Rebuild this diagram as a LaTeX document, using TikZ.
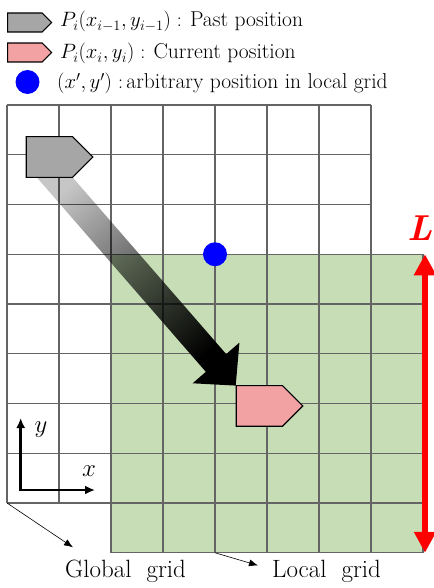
\documentclass[tikz,border=0pt]{standalone}
\usetikzlibrary{positioning,arrows.meta,calc,backgrounds,shapes.symbols}
\definecolor{pastgray}{HTML}{A6A6A6}
\definecolor{curpink}{HTML}{F2A2A2}
\definecolor{localgreen}{HTML}{C6DDB5}
\definecolor{gridgray}{HTML}{646464}
\newcommand{\legfont}{\fontsize{21.5}{24}\selectfont}

\begin{document}
\begin{tikzpicture}[
  x=1pt, y=-1pt,
  font=\fontsize{20}{24}\selectfont,
  gridline/.style={draw=gridgray, line width=1.3pt},
  penta/.style={signal, signal to=east, signal pointer angle=90, draw=black, line width=1.1pt, inner sep=0pt, anchor=west},
  past/.style={penta, fill=pastgray},
  cur/.style={penta, fill=curpink},
  dot/.style={circle, fill=blue, inner sep=0pt, minimum size=24pt},
  legtext/.style={anchor=base west, inner sep=0pt},
  gridname/.style={anchor=base west, inner sep=0pt, font=\fontsize{25}{30}\selectfont},
  axlabel/.style={inner sep=0pt, font=\fontsize{31}{31}\selectfont},
  pointer/.style={-{Latex[length=9pt,width=7pt]}, line width=0.6pt},
  axis/.style={{Latex[length=10pt,width=9pt]}-{Latex[length=10pt,width=9pt]}, line width=2.6pt, line join=miter},
  lenarrow/.style={{Triangle[length=21pt,width=21pt]}-{Triangle[length=21pt,width=21pt]}, line width=6pt, red}]
\useasboundingbox (0,0) rectangle (433,588);
\begin{pgfonlayer}{background}
\fill[localgreen] (111,254.25) rectangle (423,552.75);
\foreach \i in {0,...,7} \draw[gridline] (7+52*\i,105) -- (7+52*\i,503);
\foreach \j in {0,...,8} \draw[gridline] (7,105+49.75*\j) -- (371,105+49.75*\j);
\foreach \i in {0,...,6} \draw[gridline] (111+52*\i,254.25) -- (111+52*\i,552.75);
\foreach \j in {0,...,6} \draw[gridline] (111,254.25+49.75*\j) -- (423,254.25+49.75*\j);
\end{pgfonlayer}
\node[past, minimum width=44pt, minimum height=19pt] (legpast) at (7,22.5) {};
\node[legtext] (pasttext) at (60,27) {$P_i(x_{i-1},y_{i-1})$ : {\legfont Past position}};
\node[cur, minimum width=44pt, minimum height=19pt] (legcur) at (7,52.5) {};
\node[legtext] (curtext) at (60,59) {$P_i(x_i,y_i)$ : {\legfont Current position}};
\node[dot] (legdot) at (27.5,82) {};
\node[legtext] (dottext) at (57,89) {$(x',y')$ :\,{\legfont arbitrary position in local grid}};
\node[past, minimum width=66.6pt, minimum height=40.6pt] (prev) at (25.7,157) {};
\node[cur, minimum width=66.6pt, minimum height=40.6pt] (now) at (235.7,405.9) {};
\node[dot] (anypos) at (215,254.25) {};
\coordinate (tail) at ($(prev.west)+(19.1,9)$);
\coordinate (tip) at ($(now.west)+(0,-20.3)$);
\coordinate (neck) at ($(tip)!30pt!(tail)$);
\begin{pgfonlayer}{background}
\shade[top color=gray!45, middle color=black!58, bottom color=black, shading angle=41, blend mode=multiply]
  ($(tail)!13.5pt!90:(tip)$) -- ($(neck)!13.5pt!90:(tip)$) -- ($(neck)!31pt!90:(tip)$) -- (tip)
  -- ($(neck)!31pt!-90:(tip)$) -- ($(neck)!13.5pt!-90:(tip)$) -- ($(tail)!13.5pt!-90:(tip)$) -- cycle;
\end{pgfonlayer}
\coordinate (ltop) at (425,254.25);
\coordinate (lbot) at (425,552.75);
\draw[lenarrow] (lbot) -- (ltop);
\node[red, inner sep=0pt, font=\fontsize{36}{36}\selectfont\bfseries\itshape] (lname) at (420,228) {L};
\coordinate (origin) at (20.7,490);
\coordinate (xend) at (95,490);
\coordinate (yend) at (20.7,418);
\draw[axis] (yend) -- (origin) -- (xend);
\node[axlabel] (ylab) at (41,430) {$y$};
\node[axlabel] (xlab) at (89,471) {$x$};
\node[gridname] (globname) at (65,577) {Global\hspace{0.3em} grid};
\node[gridname] (locname) at (272,577) {Local\hspace{0.3em} grid};
\coordinate (gcorner) at (7,503);
\coordinate (lcorner) at (215,552.75);
\draw[pointer] (gcorner) -- ($(globname.north west)+(8,-12)$);
\draw[pointer] (lcorner) -- ($(locname.north west)+(-14,6)$);
\end{tikzpicture}
\end{document}
